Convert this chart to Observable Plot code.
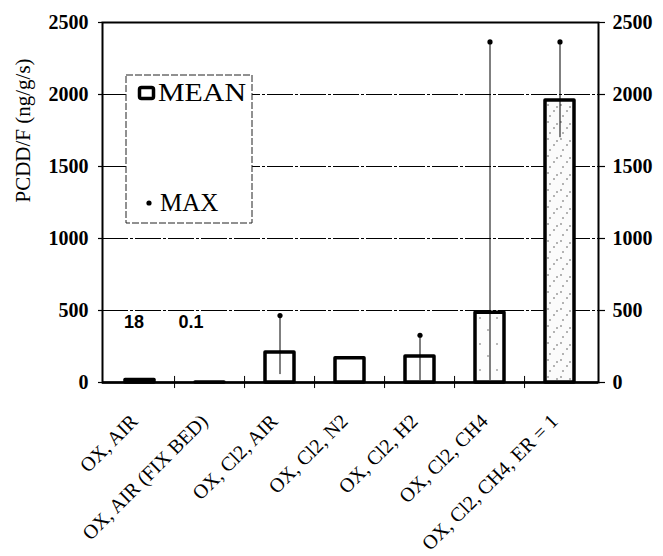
<!DOCTYPE html>
<html><head><meta charset="utf-8">
<script src="https://cdn.jsdelivr.net/npm/d3@7"></script>
<script src="https://cdn.jsdelivr.net/npm/@observablehq/plot@0.6"></script>
<style>body{margin:0;background:#fff}</style>
</head><body><div id="chart"></div>
<script>
const categories = ["OX, AIR", "OX, AIR (FIX BED)", "OX, Cl2, AIR", "OX, Cl2, N2", "OX, Cl2, H2", "OX, Cl2, CH4", "OX, Cl2, CH4, ER = 1"];
const meanValues = [18, 0.1, 208, 168, 180, 485, 1958];
const minValues  = [null, null, 55, null, 14, 14, 1700];
const maxValues  = [null, null, 465, null, 328, 2365, 2365];
const valueLabels = ["18", "0.1"];
const yTicks = [0, 500, 1000, 1500, 2000, 2500];
const gridValues = [500, 1000, 1500, 2000];
const yLabel = "PCDD/F (ng/g/s)";
const legendLabels = ["MEAN", "MAX"];

const rows = categories.map((c, i) => ({cat: c, mean: meanValues[i], min: minValues[i], max: maxValues[i]}));
const whiskers = rows.filter(d => d.max != null);

const W = 663, H = 556, mL = 102, mR = 65, mT = 22, mB = 174;
const step = (W - mL - mR) / categories.length;
const serif = "Liberation Serif";
const sans = "Liberation Sans";

const fillFor = d => d.cat === categories[6] ? "url(#stippleDense)" : d.cat === categories[5] ? "url(#stippleSparse)" : "white";

const plot = Plot.plot({
  width: W, height: H,
  marginLeft: mL, marginRight: mR, marginTop: mT, marginBottom: mB,
  style: {fontFamily: serif, background: "white", color: "black"},
  x: {domain: categories, paddingInner: 0.58, paddingOuter: 0.29, axis: null},
  y: {domain: [0, 2500], axis: null},
  marks: [
    Plot.ruleY(gridValues, {stroke: "black", strokeWidth: 1, strokeDasharray: "26,2,3,2"}),
    Plot.axisY({anchor: "left", ticks: yTicks, tickFormat: () => "", tickSize: 4, label: null, strokeWidth: 1.2}),
    Plot.axisY({anchor: "right", ticks: yTicks, tickFormat: () => "", tickSize: 6, label: null, strokeWidth: 1.2}),
    Plot.text(yTicks, {y: d => d, text: d => String(d), frameAnchor: "left", textAnchor: "end", dx: -14, fontSize: 20, fontWeight: "bold", fontFamily: serif}),
    Plot.text(yTicks, {y: d => d, text: d => String(d), frameAnchor: "right", textAnchor: "start", dx: 14, fontSize: 20, fontWeight: "bold", fontFamily: serif}),
    Plot.barY(rows, {x: "cat", y: "mean", fill: fillFor, stroke: "black", strokeWidth: 3.5, strokeLinejoin: "round"}),
    Plot.ruleX(whiskers, {x: "cat", y1: "min", y2: "max", stroke: "black", strokeWidth: 1}),
    Plot.dot(whiskers, {x: "cat", y: "max", r: 2.6, fill: "black", stroke: null}),
    Plot.frame({stroke: "black", strokeWidth: 2}),
    Plot.ruleY([0], {stroke: "black", strokeWidth: 2.5}),
    Plot.ruleX(categories.slice(1), {x: d => d, dx: -step / 2, y1: -42, y2: 42, stroke: "black", strokeWidth: 1}),
    Plot.text(categories, {x: d => d, frameAnchor: "bottom", rotate: -45, textAnchor: "end", lineAnchor: "top", dx: -11, dy: 30, fontSize: 20, fontFamily: serif}),
    Plot.text([valueLabels[0]], {x: () => categories[0], frameAnchor: "bottom", dx: -6, dy: -55, fontSize: 18, fontWeight: "bold", fontFamily: sans}),
    Plot.text([valueLabels[1]], {x: () => categories[1], frameAnchor: "bottom", dx: -19, dy: -55, fontSize: 18, fontWeight: "bold", fontFamily: sans}),
    Plot.text([yLabel], {frameAnchor: "left", rotate: -90, dx: -79, fontSize: 21, fontFamily: serif})
  ]
});

const svg = d3.select(plot);
const defs = svg.insert("defs", ":first-child");
const dense = defs.append("pattern").attr("id", "stippleDense").attr("patternUnits", "userSpaceOnUse").attr("width", 13).attr("height", 17);
dense.append("rect").attr("width", 13).attr("height", 17).attr("fill", "#fbfbfb");
[[2, 3], [8, 9], [4, 14], [11, 5]].forEach(([cx, cy]) => dense.append("circle").attr("cx", cx).attr("cy", cy).attr("r", 0.7).attr("fill", "#333"));
const sparse = defs.append("pattern").attr("id", "stippleSparse").attr("patternUnits", "userSpaceOnUse").attr("width", 17).attr("height", 26);
sparse.append("rect").attr("width", 17).attr("height", 26).attr("fill", "#fdfdfd");
[[4, 6], [12, 18]].forEach(([cx, cy]) => sparse.append("circle").attr("cx", cx).attr("cy", cy).attr("r", 0.7).attr("fill", "#444"));

// legend
const lg = svg.append("g").attr("text-anchor", "start").attr("font-family", serif);
lg.append("rect").attr("x", 126).attr("y", 75).attr("width", 126).attr("height", 148)
  .attr("fill", "white").attr("stroke", "#222").attr("stroke-width", 1).attr("stroke-dasharray", "7,2");
lg.append("rect").attr("x", 139.5).attr("y", 87.5).attr("width", 14).attr("height", 11).attr("rx", 2)
  .attr("fill", "white").attr("stroke", "black").attr("stroke-width", 3.5);
lg.append("text").attr("x", 158).attr("y", 101).attr("text-anchor", "start").attr("font-size", 25)
  .attr("textLength", 88).attr("lengthAdjust", "spacingAndGlyphs").text(legendLabels[0]);
lg.append("circle").attr("cx", 149).attr("cy", 203).attr("r", 2.6).attr("fill", "black");
lg.append("text").attr("x", 160).attr("y", 211).attr("text-anchor", "start").attr("font-size", 25).text(legendLabels[1]);

document.getElementById("chart").appendChild(plot);
</script>
</body></html>
